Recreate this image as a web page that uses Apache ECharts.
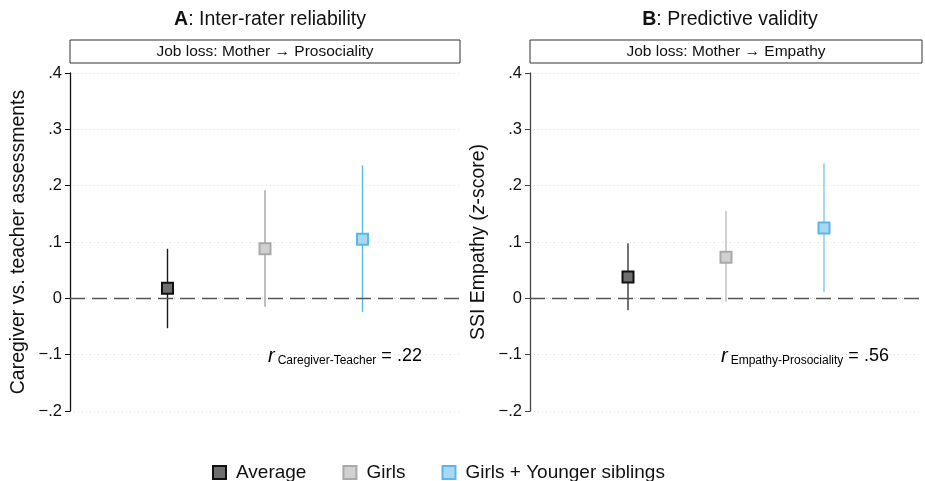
<!DOCTYPE html>
<html>
<head>
<meta charset="utf-8">
<script src="https://cdn.jsdelivr.net/npm/echarts@6/dist/echarts.min.js"></script>
<style>
  html, body { margin: 0; padding: 0; background: #fff; }
  #main { width: 925px; height: 481px; }
</style>
</head>
<body>
<div id="main"></div>
<script>
// groups shown in both panels
const groups = ['Average', 'Girls', 'Girls + Younger siblings']
const xPos = [1, 2, 3]

// panel A: inter-rater reliability
const estA = [0.018, 0.088, 0.105]
const lowA = [-0.053, -0.015, -0.024]
const highA = [0.088, 0.192, 0.236]

// panel B: predictive validity
const estB = [0.038, 0.073, 0.125]
const lowB = [-0.021, -0.006, 0.011]
const highB = [0.098, 0.155, 0.240]

const fills = ['#6f6f6f', '#d0d0d0', '#a8d8f4']
const borders = ['#111111', '#a9a9a9', '#5bb6ea']
const barColorsA = ['#1a1a1a', '#a3a3a3', '#5ab8ec']
const barColorsB = ['#3a3a3a', '#bdbdbd', '#7fc9ef']

const font = 'Liberation Sans, Arial, sans-serif'

function fmtTick (v) {
  if (Math.abs(v) < 1e-9) return '0'
  const s = '.' + Math.round(Math.abs(v) * 10)
  return v < 0 ? '\u2212' + s : s
}

function yAxisFor (gridIndex, name) {
  const axisColor = gridIndex === 0 ? '#111' : '#444'
  return {
    type: 'value',
    gridIndex: gridIndex,
    min: -0.2,
    max: 0.4,
    interval: 0.1,
    name: name,
    nameLocation: 'middle',
    nameGap: 41,
    nameTextStyle: {
      fontFamily: font, fontSize: 19.5, color: '#111',
      rich: { it: { fontFamily: font, fontSize: 19.5, fontStyle: 'italic', color: '#111' } }
    },
    axisLine: { show: true, lineStyle: { color: axisColor, width: 1.3 } },
    axisTick: { show: true, length: 5, lineStyle: { color: axisColor } },
    axisLabel: { fontFamily: font, fontSize: 16.5, color: '#111', margin: 8, formatter: fmtTick },
    splitLine: { show: true, lineStyle: { color: '#dcdcdc', type: [1, 3], width: 1 } }
  }
}

function xAxisFor (gridIndex) {
  return { type: 'value', gridIndex: gridIndex, min: 0, max: 4, show: false }
}

function panelSeries (idx, est, low, high, barColors) {
  const out = []
  groups.forEach((g, i) => {
    out.push({
      type: 'custom',
      xAxisIndex: idx,
      yAxisIndex: idx,
      silent: true,
      z: 3,
      data: [[xPos[i], low[i], high[i]]],
      renderItem: function (params, api) {
        const a = api.coord([api.value(0), api.value(1)])
        const b = api.coord([api.value(0), api.value(2)])
        return {
          type: 'line',
          shape: { x1: a[0], y1: a[1], x2: b[0], y2: b[1] },
          style: { stroke: barColors[i], lineWidth: 1.4 }
        }
      }
    })
    out.push({
      name: g,
      type: 'scatter',
      xAxisIndex: idx,
      yAxisIndex: idx,
      symbol: 'rect',
      symbolSize: 11,
      z: 5,
      itemStyle: { color: fills[i], borderColor: borders[i], borderWidth: 2, opacity: 1 },
      data: [[xPos[i], est[i]]]
    })
  })
  // zero reference line
  out.push({
    type: 'line',
    xAxisIndex: idx,
    yAxisIndex: idx,
    data: [],
    z: 2,
    markLine: {
      silent: true,
      symbol: 'none',
      label: { show: false },
      lineStyle: { color: '#555', type: [15, 7], width: 1.3 },
      data: [{ yAxis: 0 }]
    }
  })
  return out
}

const myChart = echarts.init(document.getElementById('main'))

const subRich = {
  r: { fontFamily: font, fontSize: 20, fontStyle: 'italic', color: '#111' },
  sub: { fontFamily: font, fontSize: 12, color: '#111', padding: [9, 0, 0, 3] },
  eq: { fontFamily: font, fontSize: 18, color: '#111' }
}

const titleStyle = {
  fontFamily: font, fontSize: 19.5, fontWeight: 'normal', color: '#111',
  rich: { b: { fontFamily: font, fontSize: 19.5, fontWeight: 'bold', color: '#111' } }
}

const option = {
  backgroundColor: '#fff',
  animation: false,
  title: [
    { text: '{b|A}: Inter-rater reliability', left: 265, top: 5, textAlign: 'center', textStyle: titleStyle },
    { text: '{b|B}: Predictive validity', left: 725, top: 5, textAlign: 'center', textStyle: titleStyle }
  ],
  legend: {
    left: 207,
    top: 458,
    itemWidth: 13,
    itemHeight: 13,
    itemGap: 36,
    icon: 'rect',
    textStyle: { fontFamily: font, fontSize: 19, color: '#111', padding: [0, 0, 0, 5] },
    data: groups
  },
  grid: [
    { left: 70, right: 465, top: 73, bottom: 70 },
    { left: 530, right: 3, top: 73, bottom: 70 }
  ],
  xAxis: [xAxisFor(0), xAxisFor(1)],
  yAxis: [
    yAxisFor(0, 'Caregiver vs. teacher assessments'),
    yAxisFor(1, 'SSI Empathy ({it|z}-score)')
  ],
  series: panelSeries(0, estA, lowA, highA, barColorsA)
    .concat(panelSeries(1, estB, lowB, highB, barColorsB)),
  graphic: [
    {
      type: 'rect', x: 70, y: 40, z: 10,
      shape: { width: 390, height: 23 },
      style: { fill: '#fff', stroke: '#333', lineWidth: 1 }
    },
    {
      type: 'text', x: 265, y: 52, z: 11,
      style: {
        text: 'Job loss: Mother \u2192 Prosociality', fontFamily: font, fontSize: 15.5, fill: '#111',
        align: 'center', verticalAlign: 'middle'
      }
    },
    {
      type: 'rect', x: 530, y: 40, z: 10,
      shape: { width: 392, height: 23 },
      style: { fill: '#fff', stroke: '#333', lineWidth: 1 }
    },
    {
      type: 'text', x: 726, y: 52, z: 11,
      style: {
        text: 'Job loss: Mother \u2192 Empathy', fontFamily: font, fontSize: 15.5, fill: '#111',
        align: 'center', verticalAlign: 'middle'
      }
    },
    {
      type: 'text', x: 268, y: 346, z: 11,
      style: { text: '{r|r}{sub|Caregiver-Teacher}{eq| = .22}', rich: subRich }
    },
    {
      type: 'text', x: 721, y: 346, z: 11,
      style: { text: '{r|r}{sub|Empathy-Prosociality}{eq| = .56}', rich: subRich }
    }
  ]
}

myChart.setOption(option)
</script>
</body>
</html>
